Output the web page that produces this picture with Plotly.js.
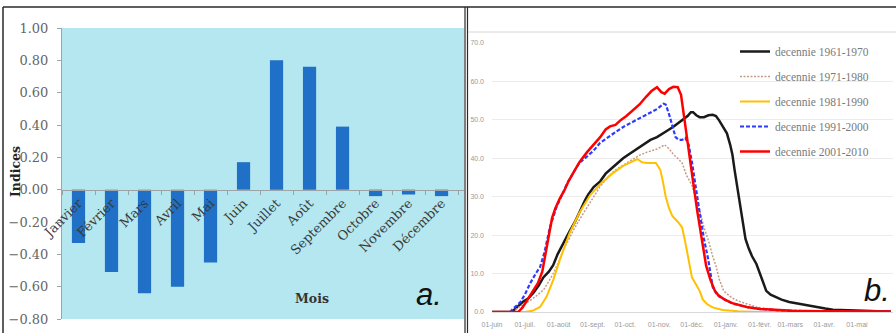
<!DOCTYPE html>
<html>
<head>
<meta charset="utf-8">
<script src="https://cdn.plot.ly/plotly-3.0.1.min.js"></script>
<style>html,body{margin:0;padding:0;background:#fff}#chart{width:896px;height:333px}</style>
</head>
<body>
<div id="chart"></div>
<script>
// ---------- Panel a: monthly indices ----------
const months = ["Janvier","Février","Mars","Avril","Mai","Juin","Juillet","Août","Septembre","Octobre","Novembre","Décembre"];
const indices = [-0.33,-0.51,-0.64,-0.60,-0.45,0.17,0.80,0.76,0.39,-0.04,-0.03,-0.04];

// ---------- Panel b: decade curves (x = days since 1 June) ----------
const monthStartDays = [0,30,61,92,122,153,183,214,245,273,304,334];
const monthLabels = ["01-juin","01-juil.","01-août","01-sept.","01-oct.","01-nov.","01-déc.","01-janv.","01-févr.","01-mars","01-avr.","01-mai"];

const d1961_days = [0,18,22,28,33,38,43,47,52,56,60,66,71,76,80,85,88,93,99,104,108,115,120,125,130,135,140,145,151,156,161,166,170,175,179,182,184,187,190,194,198,202,205,208,212,215,218,220,222,224,227,230,232,235,238,242,245,248,251,255,260,265,272,279,288,297,305,312,325,340,353,365];
const d1961_vals = [0,0,1,2.6,3.5,5,7,9,10.5,12.2,15,18.5,21,23.5,26,29,30.5,32.5,34,36,37,38.8,40,41,42,43,43.8,44.8,45.5,46.5,47.3,48.2,49,50,51,52,52,51.2,50.7,50.7,51.2,51.3,51,49.8,48,46.5,43.5,41,37,33.5,27.5,22,19,16.5,14.5,12.5,10,7.5,5.5,4.5,3.8,3.2,2.6,2.2,1.7,1.3,0.9,0.6,0.4,0.3,0.2,0.1];

const d1971_days = [0,20,23,29,35,41,47,52,56,61,65,70,74,80,87,93,99,106,112,120,128,135,142,151,155,158,162,166,170,174,178,183,187,190,194,198,202,205,208,212,216,220,226,233,242,252,263,280,300,365];
const d1971_vals = [0,0,1,2,3,4.3,5.7,8,10,13,16,18.7,21,24,27.3,30,32.7,35,36.8,38.2,39.6,40.8,41.6,42.4,43,43.5,42.5,41,40,38.8,35.6,33,29,26.5,22,18.7,14.5,12,8.5,5.5,4.5,3.6,2.8,2.2,1.3,0.8,0.5,0.3,0.2,0.1];

const d1981_days = [0,30,37,44,50,56,62,71,80,90,100,110,120,128,133,137,142,150,154,156,159,162,165,170,174,177,180,183,187,190,193,197,202,211,225,240,365];
const d1981_vals = [0,0,0.3,1.3,4,8.3,13.5,20.5,25.8,30.5,33.5,36,38,39,39.8,39,38.8,38.8,37,34.5,30,27,25,23.5,22,18,13,9,7,5.5,3.2,2,1.2,0.5,0.2,0,0];

const d1991_days = [0,17,18,22,26,30,35,40,44,48,53,59,64,69,75,80,87,93,99,106,114,121,129,137,145,151,157,159,162,165,168,171,174,177,180,183,186,190,194,198,202,205,208,214,220,233,245,260,275,300,365];
const d1991_vals = [0,0,0.5,1.5,2.6,4.5,7.5,10,11.7,15.5,22,27.3,30.5,33.6,36.5,38.8,40.5,42,44,45.5,47,48.3,49.5,50.7,51.8,52.8,54.2,54,51.5,48.5,45.5,44.8,44.8,45.3,43.5,39,33,26,19,13.5,6.5,5,4,3,2.2,1.3,0.8,0.5,0.3,0.2,0.1];

const d2001_days = [0,24,28,32,37,42,46,49,52,55,58,62,66,70,75,80,87,93,99,104,108,113,118,123,129,135,141,146,151,155,158,162,166,170,173,176,179,181,184,188,193,196,200,204,207,213,220,233,245,260,275,300,365];
const d2001_vals = [0,0,1.2,3,5.5,7.5,10.5,15,20,24.5,27,29.5,31.5,34,36.5,39,41.6,43.5,45.5,47.5,48.3,48.7,50,51,52.5,54,56,57.5,58.5,57.2,56.8,58,58.6,58.5,56.5,50,44,39.5,34,26,17,12,8.3,5.5,4.4,3.2,2.3,1.3,0.8,0.5,0.3,0.2,0.1];

const seriesNames = ["decennie 1961-1970","decennie 1971-1980","decennie 1981-1990","decennie 1991-2000","decennie 2001-2010"];

// ---------- helpers for pixel placement of decorations ----------
const W = 896, H = 333;
const px = v => v / W;
const py = v => 1 - v / H;

const yA0 = py(319), yA1 = py(28);
const zeroPos = yA0 + (0.8 / 1.8) * (yA1 - yA0);

const traces = [
  {type:'bar', x: months, y: indices, xaxis:'x', yaxis:'y',
   marker:{color:'#1f70c6'}, showlegend:false, hoverinfo:'x+y'},
  {type:'scatter', mode:'lines', x:d1961_days, y:d1961_vals, xaxis:'x2', yaxis:'y2', name:seriesNames[0], legendgroup:'g1',
   line:{color:'#1a1a1a', width:2.5}},
  {type:'scatter', mode:'lines', x:d1971_days, y:d1971_vals, xaxis:'x2', yaxis:'y2', name:seriesNames[1], legendgroup:'g2',
   line:{color:'#c49c86', width:1.5, dash:'2px,1.5px'}},
  {type:'scatter', mode:'lines', x:d1981_days, y:d1981_vals, xaxis:'x2', yaxis:'y2', name:seriesNames[2], legendgroup:'g3',
   line:{color:'#ffc000', width:2}},
  {type:'scatter', mode:'lines', x:d1991_days, y:d1991_vals, xaxis:'x2', yaxis:'y2', name:seriesNames[3], legendgroup:'g4',
   line:{color:'#2b3cff', width:2.2, dash:'4px,2px'}},
  {type:'scatter', mode:'lines', x:d2001_days, y:d2001_vals, xaxis:'x2', yaxis:'y2', name:seriesNames[4], legendgroup:'g5',
   line:{color:'#ff0000', width:2.5}}
];

const dark = '#2a2a2a';
const layout = {
  width: W, height: H,
  margin:{l:0,r:0,t:0,b:0,pad:0},
  paper_bgcolor:'#ffffff',
  plot_bgcolor:'rgba(0,0,0,0)',
  bargap:0.6,
  font:{family:'DejaVu Serif', color:'#444'},
  xaxis:{
    type:'category', domain:[px(62), px(464)], range:[-0.5, 11.68],
    anchor:'free', position: zeroPos,
    showline:true, linecolor:'#9aa5a8', linewidth:1,
    ticks:'outside', ticklen:4, tickcolor:'#9aa5a8', tickson:'boundaries',
    tickangle:-45, tickfont:{family:'DejaVu Serif', size:13, color:'#3a3a3a'},
    showgrid:false, zeroline:false, fixedrange:true
  },
  yaxis:{
    domain:[yA0, yA1], range:[-0.8, 1.0], dtick:0.2, tick0:-0.8, tickformat:'.2f',
    anchor:'x', showline:true, linecolor:'#9aa5a8', linewidth:1,
    ticks:'outside', ticklen:4, tickcolor:'#9aa5a8', ticklabelstandoff:6,
    tickfont:{family:'DejaVu Serif', size:13, color:'#666'},
    showgrid:false, zeroline:false, fixedrange:true
  },
  xaxis2:{
    domain:[px(492), px(893)], range:[0, 367], anchor:'y2',
    tickmode:'array', tickvals: monthStartDays, ticktext: monthLabels, tickangle:0,
    ticks:'', ticklabelstandoff:6,
    tickfont:{family:'Liberation Sans', size:7, color:'#9a9a9a'},
    showline:true, linecolor:'#d9d9d9', linewidth:1,
    showgrid:false, zeroline:false, fixedrange:true
  },
  yaxis2:{
    domain:[py(312), py(43)], range:[0, 70], dtick:10, tickformat:'.1f', anchor:'x2',
    ticks:'', ticklabelstandoff:7,
    tickfont:{family:'Liberation Sans', size:7, color:'#9a9a9a'},
    showgrid:true, gridcolor:'#ececec', gridwidth:1,
    zeroline:false, showline:false, fixedrange:true
  },
  showlegend:true,
  legend:{
    x: px(735), xanchor:'left', y: py(37), yanchor:'top',
    bgcolor:'rgba(255,255,255,0)', borderwidth:0,
    font:{family:'Liberation Serif', size:11.5, color:'#7a7a7a'},
    tracegroupgap:6, traceorder:'grouped'
  },
  shapes:[
    {type:'rect', xref:'paper', yref:'paper', x0:px(62), x1:px(464), y0:yA0, y1:yA1,
     fillcolor:'#b4e7ef', line:{width:0}, layer:'below'},
    {type:'line', xref:'paper', yref:'paper', x0:px(3), x1:px(3), y0:0, y1:py(7), line:{color:dark, width:1.5}},
    {type:'line', xref:'paper', yref:'paper', x0:px(3), x1:1, y0:py(7), y1:py(7), line:{color:dark, width:1.5}},
    {type:'line', xref:'paper', yref:'paper', x0:px(465), x1:px(465), y0:0, y1:py(7), line:{color:dark, width:1.2}},
    {type:'line', xref:'paper', yref:'paper', x0:px(467.5), x1:px(467.5), y0:0, y1:py(7), line:{color:dark, width:1.2}},
    {type:'line', xref:'paper', yref:'paper', x0:px(468), x1:1, y0:py(32), y1:py(32), line:{color:'#d4d4d4', width:1}}
  ],
  annotations:[
    {text:'<b>Mois</b>', xref:'paper', yref:'paper', x:px(312), y:py(298), showarrow:false,
     xanchor:'center', yanchor:'middle', font:{family:'DejaVu Serif', size:12.5, color:'#333'}},
    {text:'<b>Indices</b>', xref:'paper', yref:'paper', x:px(15), y:py(172), showarrow:false, textangle:-90,
     xanchor:'center', yanchor:'middle', font:{family:'DejaVu Serif', size:12.5, color:'#222'}},
    {text:'<i>a.</i>', xref:'paper', yref:'paper', x:px(429), y:py(294), showarrow:false,
     xanchor:'center', yanchor:'middle', font:{family:'Liberation Sans', size:31, color:'#111'}},
    {text:'<i>b.</i>', xref:'paper', yref:'paper', x:px(877), y:py(290), showarrow:false,
     xanchor:'center', yanchor:'middle', font:{family:'Liberation Sans', size:31, color:'#111'}}
  ]
};

Plotly.newPlot('chart', traces, layout, {displayModeBar:false, staticPlot:true});
</script>
</body>
</html>
